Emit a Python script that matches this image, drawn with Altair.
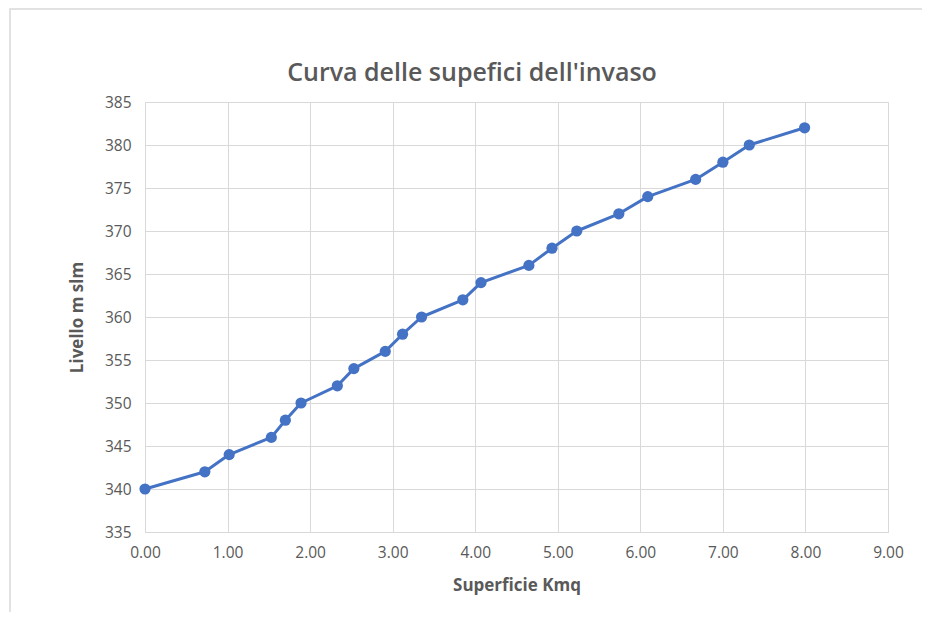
import altair as alt
import pandas as pd

superficie = [0.00, 0.725, 1.02, 1.53, 1.70, 1.89, 2.33, 2.53, 2.91, 3.12, 3.35, 3.85, 4.07,
              4.65, 4.93, 5.23, 5.74, 6.09, 6.67, 7.00, 7.32, 7.99]
livello = [340, 342, 344, 346, 348, 350, 352, 354, 356, 358, 360, 362, 364,
           366, 368, 370, 372, 374, 376, 378, 380, 382]
titolo = "Curva delle supefici dell'invaso"

df = pd.DataFrame({"x": superficie, "y": livello})

FONT = "Open Sans"
TXT = "#595959"
GRID = "#d9d9d9"
BLUE = "#4472C4"

x_enc = alt.X("x:Q", title="Superficie Kmq",
              scale=alt.Scale(domain=[0, 9], nice=False, zero=False),
              axis=alt.Axis(values=list(range(10)), format=".2f", grid=True,
                            gridColor=GRID, domainColor=GRID, ticks=False, labelFlush=False,
                            labelFont=FONT, labelFontSize=15.5, labelColor=TXT, labelPadding=13,
                            titleFont=FONT, titleFontSize=17, titleColor=TXT, titleFontWeight="bold",
                            titlePadding=17))
y_enc = alt.Y("y:Q", title="Livello m slm",
              scale=alt.Scale(domain=[335, 385], nice=False, zero=False),
              axis=alt.Axis(values=list(range(335, 386, 5)), grid=True,
                            gridColor=GRID, domainColor=GRID, ticks=False, labelFlush=False,
                            labelFont=FONT, labelFontSize=15.5, labelColor=TXT, labelPadding=14,
                            titleFont=FONT, titleFontSize=17, titleColor=TXT, titleFontWeight="bold",
                            titlePadding=18))

frame = alt.Chart(pd.DataFrame({"a": [0]})).mark_rect(
    fill=None, stroke=GRID, strokeWidth=1.5, clip=False
).encode(x=alt.value(-135), x2=alt.value(800), y=alt.value(-93), y2=alt.value(700))

title = alt.Chart(pd.DataFrame({"t": [titolo]})).mark_text(
    font=FONT, fontSize=25, fontWeight=600, color=TXT, align="center", baseline="middle"
).encode(text="t:N", x=alt.value(327), y=alt.value(-29))

line = alt.Chart(df).mark_line(color=BLUE, strokeWidth=3, strokeJoin="round",
                               interpolate="linear").encode(x=x_enc, y=y_enc)
pts = alt.Chart(df).mark_circle(color=BLUE, size=125, opacity=1).encode(x="x:Q", y="y:Q")

chart = alt.layer(frame, line, pts, title).properties(
    width=743, height=430,
    autosize=alt.AutoSizeParams(type="none"),
    padding={"left": 137, "top": 94, "right": 34, "bottom": 80},
).configure_view(stroke=None).configure(background="white")

chart.save("out.html", embed_options={"renderer": "svg", "actions": False})
